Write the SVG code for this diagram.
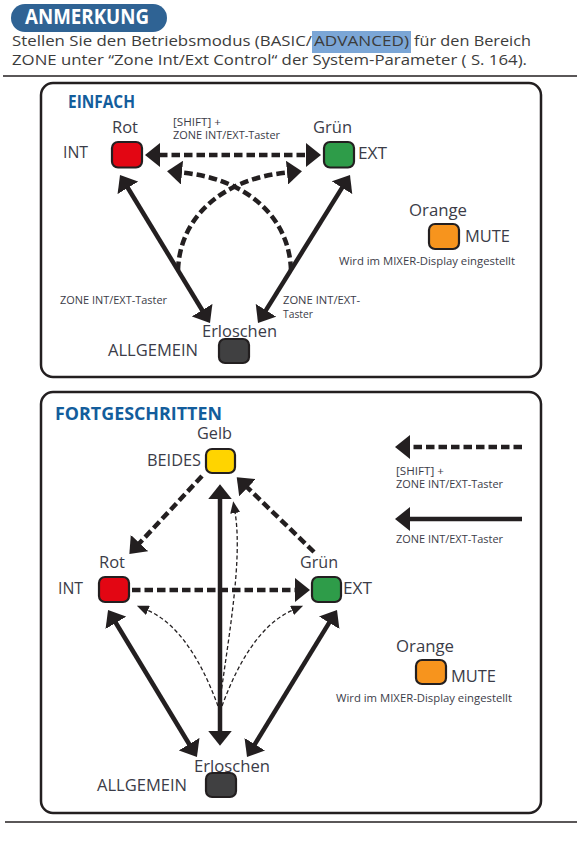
<svg xmlns="http://www.w3.org/2000/svg" width="582" height="842" viewBox="0 0 582 842">
<style>
text{font-family:"Open Sans","Noto Sans","Liberation Sans",sans-serif;fill:#3b3c48}
.hd{font-size:15px;fill:#3c3c3b}
.lbl{font-size:16px}
.sm{font-size:10.5px}
.ttl{font-size:17.5px;font-weight:bold;fill:#135d9c}
.box{stroke:#231f20;stroke-width:2.2}
.solid{stroke:#231f20;stroke-width:4.5;fill:none}
.dash{stroke:#231f20;stroke-width:4.5;fill:none;stroke-dasharray:8.5 4}
.thin{stroke:#231f20;stroke-width:1.3;fill:none;stroke-dasharray:4 2.5}
.panel{fill:#fff;stroke:#231f20;stroke-width:2.5}
.rule{stroke:#231f20;stroke-width:1.5}
</style>
<defs>
<marker id="ah" viewBox="0 0 15 24" refX="1" refY="12" markerWidth="15" markerHeight="24" markerUnits="userSpaceOnUse" orient="auto-start-reverse"><path d="M0,0 L15,12 L0,24 z" fill="#231f20"/></marker>
<marker id="ahs" viewBox="0 0 12 10" refX="1" refY="5" markerWidth="12" markerHeight="10" markerUnits="userSpaceOnUse" orient="auto"><path d="M0,0 L12,5 L0,10 z" fill="#231f20"/></marker>
</defs>
<rect width="582" height="842" fill="#fff"/>

<g id="header">
<rect x="11" y="4" width="156" height="28" rx="14" fill="#2f6394"/>
<text x="25" y="24" textLength="124" lengthAdjust="spacingAndGlyphs" style="font-size:20.5px;font-weight:bold;fill:#fff">ANMERKUNG</text>
<rect x="312" y="31" width="99" height="22" fill="#7ba6d6"/>
<text class="hd" x="12" y="46" textLength="300" lengthAdjust="spacingAndGlyphs">Stellen Sie den Betriebsmodus (BASIC/</text>
<text class="hd" x="314" y="46" textLength="95" lengthAdjust="spacingAndGlyphs">ADVANCED)</text>
<text class="hd" x="414" y="46" textLength="117" lengthAdjust="spacingAndGlyphs">für den Bereich</text>
<text class="hd" x="12" y="65" textLength="515" lengthAdjust="spacingAndGlyphs">ZONE unter “Zone Int/Ext Control“ der System-Parameter ( S. 164).</text>
<line class="rule" x1="3" y1="76" x2="577" y2="76"/>
<line class="rule" x1="5" y1="822" x2="577" y2="822"/>
</g>

<g id="panel-einfach">
<rect class="panel" x="41" y="83" width="500" height="294" rx="12"/>
<text class="ttl" x="68" y="108" textLength="67" lengthAdjust="spacingAndGlyphs">EINFACH</text>
</g>

<g id="panel-fortgeschritten">
<rect class="panel" x="41" y="392" width="500" height="421" rx="12"/>
<text class="ttl" x="55" y="420" textLength="167" lengthAdjust="spacingAndGlyphs">FORTGESCHRITTEN</text>
</g>

<g id="connectors">
<path class="dash" d="M159,155 H307" marker-start="url(#ah)" marker-end="url(#ah)"/>
<path class="dash" d="M178,270 C180,215 225,178 288,172.5" marker-end="url(#ah)"/>
<path class="dash" d="M291,270 C289,215 244,178 181,172.5" marker-end="url(#ah)"/>
<path class="solid" d="M127.3,187 L202.7,311" marker-start="url(#ah)" marker-end="url(#ah)"/>
<path class="solid" d="M342.6,186.9 L265.4,311.1" marker-start="url(#ah)" marker-end="url(#ah)"/>
<path class="dash" d="M202,476 L138.9,543.8" marker-end="url(#ah)"/>
<path class="dash" d="M314,552 L246.8,487" marker-end="url(#ah)"/>
<path class="dash" d="M132,590 H296" marker-end="url(#ah)"/>
<path class="solid" d="M220,498.3 V731.7" marker-start="url(#ah)" marker-end="url(#ah)"/>
<path class="thin" d="M219,708 C228,640 243,560 235,512" marker-end="url(#ahs)"/>
<path class="thin" d="M218,706 C204,668 182,625 147,610" marker-end="url(#ahs)"/>
<path class="thin" d="M222,706 C236,668 258,625 293,610" marker-end="url(#ahs)"/>
<path class="solid" d="M115.3,622 L189.7,745" marker-start="url(#ah)" marker-end="url(#ah)"/>
<path class="solid" d="M329.7,621.9 L254.3,745.1" marker-start="url(#ah)" marker-end="url(#ah)"/>
</g>

<g id="labels-einfach">
<text class="sm" x="173" y="126" textLength="48" lengthAdjust="spacingAndGlyphs">[SHIFT] +</text>
<text class="sm" x="173" y="139" textLength="107" lengthAdjust="spacingAndGlyphs">ZONE INT/EXT-Taster</text>
<text class="sm" x="60" y="304" textLength="107" lengthAdjust="spacingAndGlyphs">ZONE INT/EXT-Taster</text>
<text class="sm" x="283" y="304" textLength="77" lengthAdjust="spacingAndGlyphs">ZONE INT/EXT-</text>
<text class="sm" x="283" y="318" textLength="30" lengthAdjust="spacingAndGlyphs">Taster</text>
</g>

<g id="node-e-rot">
<rect class="box" x="112" y="142" width="30" height="25.5" rx="6" fill="#e30613"/>
<text class="lbl" x="112" y="133" textLength="26" lengthAdjust="spacingAndGlyphs">Rot</text>
<text class="lbl" x="63" y="158" textLength="25" lengthAdjust="spacingAndGlyphs">INT</text>
</g>
<g id="node-e-gruen">
<rect class="box" x="324" y="142" width="30" height="25.5" rx="6" fill="#2e9c49"/>
<text class="lbl" x="313" y="133" textLength="39" lengthAdjust="spacingAndGlyphs">Grün</text>
<text class="lbl" x="358" y="159" textLength="29" lengthAdjust="spacingAndGlyphs">EXT</text>
</g>
<g id="node-e-aus">
<rect class="box" x="219" y="339" width="30" height="24" rx="6" fill="#404041"/>
<text class="lbl" x="202" y="337" textLength="75" lengthAdjust="spacingAndGlyphs">Erloschen</text>
<text class="lbl" x="108" y="356" textLength="90" lengthAdjust="spacingAndGlyphs">ALLGEMEIN</text>
</g>
<g id="node-e-orange">
<rect class="box" x="429" y="224" width="30" height="25" rx="6" fill="#f7941d"/>
<text class="lbl" x="409" y="216" textLength="58" lengthAdjust="spacingAndGlyphs">Orange</text>
<text class="lbl" x="465" y="242" textLength="45" lengthAdjust="spacingAndGlyphs">MUTE</text>
<text x="339" y="265" textLength="176" lengthAdjust="spacingAndGlyphs" style="font-size:10.5px">Wird im MIXER-Display eingestellt</text>
</g>

<g id="node-f-gelb">
<rect class="box" x="206" y="449" width="29" height="24" rx="6" fill="#ffd400"/>
<text class="lbl" x="197" y="439" textLength="35" lengthAdjust="spacingAndGlyphs">Gelb</text>
<text class="lbl" x="147" y="466" textLength="54" lengthAdjust="spacingAndGlyphs">BEIDES</text>
</g>
<g id="node-f-rot">
<rect class="box" x="99" y="577" width="30" height="25" rx="6" fill="#e30613"/>
<text class="lbl" x="99" y="568" textLength="26" lengthAdjust="spacingAndGlyphs">Rot</text>
<text class="lbl" x="58" y="594" textLength="25" lengthAdjust="spacingAndGlyphs">INT</text>
</g>
<g id="node-f-gruen">
<rect class="box" x="312" y="577" width="29" height="25" rx="6" fill="#2e9c49"/>
<text class="lbl" x="300" y="568" textLength="38" lengthAdjust="spacingAndGlyphs">Grün</text>
<text class="lbl" x="343" y="594" textLength="29" lengthAdjust="spacingAndGlyphs">EXT</text>
</g>
<g id="node-f-aus">
<rect class="box" x="206" y="773" width="30" height="24" rx="6" fill="#404041"/>
<text class="lbl" x="194" y="772" textLength="76" lengthAdjust="spacingAndGlyphs">Erloschen</text>
<text class="lbl" x="97" y="791" textLength="90" lengthAdjust="spacingAndGlyphs">ALLGEMEIN</text>
</g>
<g id="node-f-orange">
<rect class="box" x="416" y="660" width="30" height="24" rx="6" fill="#f7941d"/>
<text class="lbl" x="396" y="652" textLength="58" lengthAdjust="spacingAndGlyphs">Orange</text>
<text class="lbl" x="451" y="682" textLength="45" lengthAdjust="spacingAndGlyphs">MUTE</text>
<text x="336" y="702" textLength="176" lengthAdjust="spacingAndGlyphs" style="font-size:10.5px">Wird im MIXER-Display eingestellt</text>
</g>

<g id="legend">
<path class="dash" d="M522,447 H409" marker-end="url(#ah)"/>
<text class="sm" x="396" y="475" textLength="48" lengthAdjust="spacingAndGlyphs">[SHIFT] +</text>
<text class="sm" x="396" y="488" textLength="107" lengthAdjust="spacingAndGlyphs">ZONE INT/EXT-Taster</text>
<path class="solid" d="M522,519 H409" marker-end="url(#ah)"/>
<text class="sm" x="396" y="543" textLength="107" lengthAdjust="spacingAndGlyphs">ZONE INT/EXT-Taster</text>
</g>
</svg>
